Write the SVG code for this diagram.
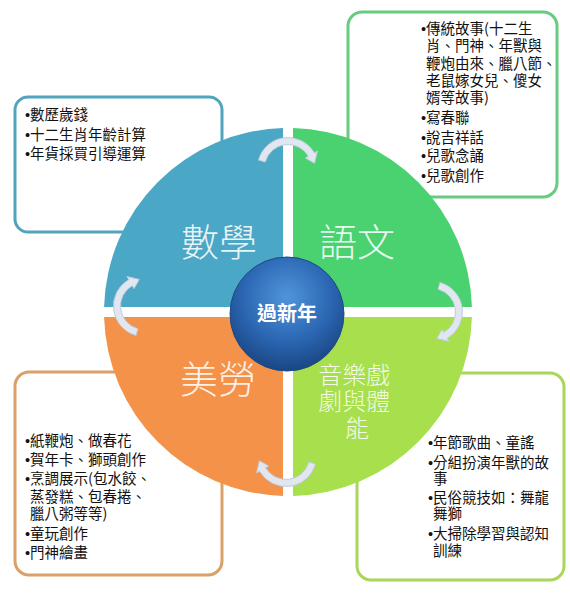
<svg xmlns="http://www.w3.org/2000/svg" width="570" height="597" viewBox="0 0 570 597">
<style>
.box{fill:#ffffff;stroke-width:3}
.t{font-family:"Noto Sans CJK TC","Noto Sans CJK SC",sans-serif;font-size:14.5px;fill:#111111}
.b{font-family:"Liberation Sans",sans-serif}
.q{font-family:"Noto Sans CJK TC","Noto Sans CJK SC",sans-serif;font-weight:300;fill:#ffffff;fill-opacity:0.88;text-anchor:middle}
.ring{fill:#e1e7f1;stroke:#bfcadb;stroke-width:1}
</style>
<defs>
<radialGradient id="hub" cx="50%" cy="35%" r="65%">
<stop offset="0" stop-color="#4f95dc"/>
<stop offset="0.6" stop-color="#2b66b2"/>
<stop offset="1" stop-color="#1a4683"/>
</radialGradient>
<path id="arc" d="M-22.7,-6.08 L-29.46,-7.89 A30.5 30.5 0 0 1 26.41,-15.25 L29.44,-17 L26.59,-4.69 L17.32,-10 L20.35,-11.75 A23.5 23.5 0 0 0 -22.7,-6.08 Z"/>
</defs>
<rect width="570" height="597" fill="#ffffff"/>

<g id="box-math">
<rect class="box" x="15" y="97" width="207" height="135" rx="13" stroke="#52a3bd"/>
<text class="t">
<tspan x="25" y="119.5"><tspan class="b">•</tspan>數歷歲錢</tspan>
<tspan x="25" y="139.5"><tspan class="b">•</tspan>十二生肖年齡計算</tspan>
<tspan x="25" y="158.5"><tspan class="b">•</tspan>年貨採買引導運算</tspan>
</text>
</g>

<g id="box-language">
<rect class="box" x="348" y="12" width="209" height="185" rx="14" stroke="#66cc80"/>
<text class="t">
<tspan x="421" y="33.5"><tspan class="b">•</tspan>傳統故事(十二生</tspan>
<tspan x="426" y="50.5">肖、門神、年獸與</tspan>
<tspan x="426" y="68.5">鞭炮由來、臘八節、</tspan>
<tspan x="426" y="85.5">老鼠嫁女兒、傻女</tspan>
<tspan x="426" y="102.5">婿等故事)</tspan>
<tspan x="421" y="122.5"><tspan class="b">•</tspan>寫春聯</tspan>
<tspan x="421" y="142.5"><tspan class="b">•</tspan>說吉祥話</tspan>
<tspan x="421" y="160.5"><tspan class="b">•</tspan>兒歌念誦</tspan>
<tspan x="421" y="180.5"><tspan class="b">•</tspan>兒歌創作</tspan>
</text>
</g>

<g id="box-art">
<rect class="box" x="15" y="372" width="207" height="203" rx="14" stroke="#d9a06a"/>
<text class="t">
<tspan x="25" y="445.5"><tspan class="b">•</tspan>紙鞭炮、做春花</tspan>
<tspan x="25" y="464.5"><tspan class="b">•</tspan>賀年卡、獅頭創作</tspan>
<tspan x="25" y="483.5"><tspan class="b">•</tspan>烹調展示(包水餃、</tspan>
<tspan x="30" y="501.5">蒸發糕、包春捲、</tspan>
<tspan x="30" y="518.5">臘八粥等等)</tspan>
<tspan x="25" y="538.5"><tspan class="b">•</tspan>童玩創作</tspan>
<tspan x="25" y="557.5"><tspan class="b">•</tspan>門神繪畫</tspan>
</text>
</g>

<g id="box-music">
<rect class="box" x="357" y="373" width="207" height="207" rx="14" stroke="#a9d65b"/>
<text class="t">
<tspan x="428" y="447.5"><tspan class="b">•</tspan>年節歌曲、童謠</tspan>
<tspan x="428" y="467.5"><tspan class="b">•</tspan>分組扮演年獸的故</tspan>
<tspan x="433" y="483.5">事</tspan>
<tspan x="428" y="502.5"><tspan class="b">•</tspan>民俗競技如：舞龍</tspan>
<tspan x="433" y="518.5">舞獅</tspan>
<tspan x="428" y="538.5"><tspan class="b">•</tspan>大掃除學習與認知</tspan>
<tspan x="433" y="555.5">訓練</tspan>
</text>
</g>

<g id="q-math">
<path d="M283,307 V128.07 A184 184 0 0 0 104.07,307 Z" fill="#4aa7c5"/>
<text class="q" x="219" y="256" font-size="38">數學</text>
</g>
<g id="q-language">
<path d="M293,307 H471.93 A184 184 0 0 0 293,128.07 Z" fill="#4bd270"/>
<text class="q" x="357" y="256" font-size="38">語文</text>
</g>
<g id="q-art">
<path d="M283,317 H104.07 A184 184 0 0 0 283,495.93 Z" fill="#f4924a"/>
<text class="q" x="218" y="393" font-size="38">美勞</text>
</g>
<g id="q-music">
<path d="M293,317 V495.93 A184 184 0 0 0 471.93,317 Z" fill="#a7e04c"/>
<text class="q" font-size="24" fill-opacity="0.75">
<tspan x="357" y="384">音樂戲</tspan>
<tspan x="357" y="410">劇與體</tspan>
<tspan x="357" y="437">能</tspan>
</text>
</g>

<g id="connectors">
<use href="#arc" class="ring" transform="translate(288,168)"/>
<use href="#arc" class="ring" transform="translate(432,312) rotate(90)"/>
<use href="#arc" class="ring" transform="translate(286,456) rotate(180)"/>
<use href="#arc" class="ring" transform="translate(144,306) rotate(270)"/>
</g>

<g id="hub-node">
<circle cx="287" cy="314" r="57" fill="url(#hub)" stroke="#1b4a85" stroke-width="1"/>
<text x="287" y="321" text-anchor="middle" font-family="Noto Sans CJK TC, Noto Sans CJK SC, sans-serif" font-size="20" font-weight="bold" fill="#ffffff">過新年</text>
</g>
</svg>
